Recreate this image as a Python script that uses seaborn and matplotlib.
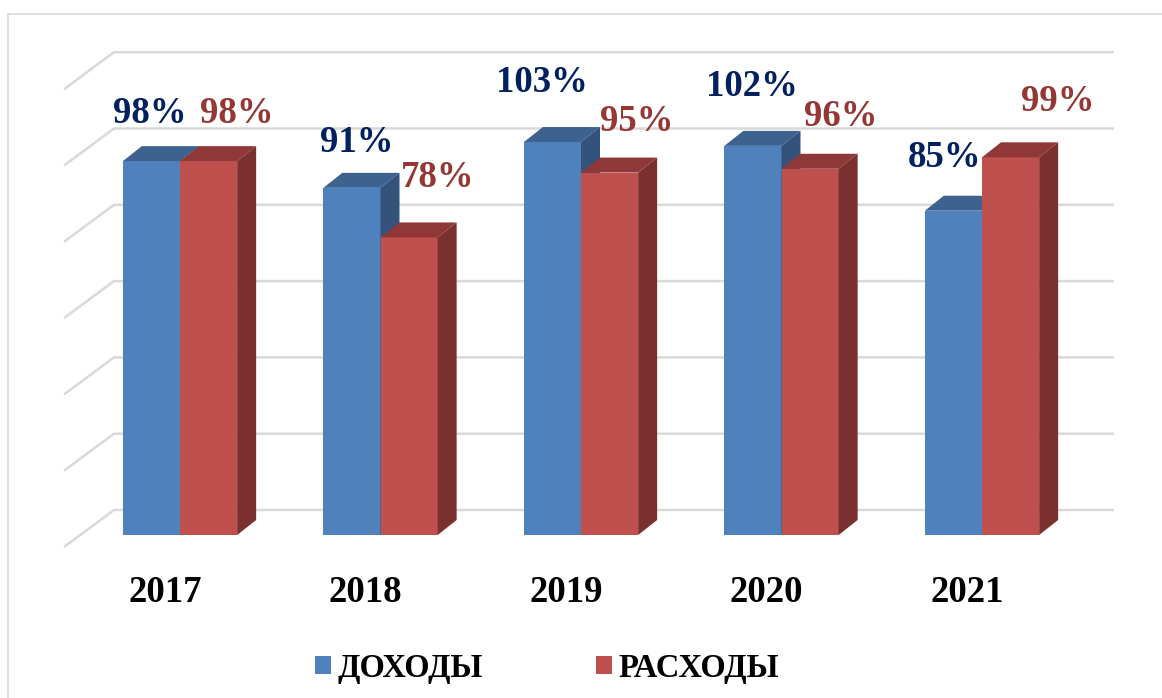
import matplotlib
matplotlib.use("Agg")
import matplotlib.pyplot as plt
import matplotlib.transforms as mtransforms
from matplotlib.patches import Polygon, Rectangle
import pandas as pd
import seaborn as sns

# ---- data ----
years = ["2017", "2018", "2019", "2020", "2021"]
series = ["ДОХОДЫ", "РАСХОДЫ"]
income = [98, 91, 103, 102, 85]
expense = [98, 78, 95, 96, 99]
grid_values = [0, 20, 40, 60, 80, 100, 120]

df = pd.DataFrame({
    "year": years * 2,
    "value": income + expense,
    "series": [series[0]] * len(years) + [series[1]] * len(years),
})

# ---- style ----
sns.set_style("white")
FONT = ["Liberation Serif", "DejaVu Serif"]
plt.rcParams["font.family"] = FONT
plt.rcParams["text.color"] = "black"

front = ["#4F81BD", "#C0504D"]
top_c = ["#3D6290", "#8F3837"]
side_c = ["#33527C", "#7A302F"]
label_c = ["#002060", "#953735"]
grid_c = "#D9D9D9"
FS = 26.5
FS_LEG = 23.5

# label nudges in pixels (dx from bar centre, dy above bar front top)
nudges = [
    [(-2, 38), (4.5, 35.5), (-10, 50), (-1, 49.5), (-9, 44)],
    [(28.5, 38), (28.5, 50), (27, 42), (30.5, 42.3), (47, 46)],
]

W, H = 1162, 698
fig = plt.figure(figsize=(W / 100, H / 100), dpi=100)
px_x = 200.5      # pixels per category
S = 3.815         # pixels per percent
x0_px = 180.0     # pixel position of first category
base_px = 535.0   # pixel row of value 0 (front plane)
xlim = (-0.6, 4.7)
ylim = (0, 130)
L = x0_px + xlim[0] * px_x
R = x0_px + xlim[1] * px_x
ax = fig.add_axes([L / W, (H - base_px) / H, (R - L) / W, (ylim[1] - ylim[0]) * S / H])

sns.barplot(data=df, x="year", y="value", hue="series", order=years, hue_order=series,
            palette=front, saturation=1, width=0.57, ax=ax, edgecolor="none", linewidth=0)
ax.set_xlim(*xlim)
ax.set_ylim(*ylim)

# depth of bars (px) -> data units
dxd = 19 / px_x
dyd = 15 / S

for k, cont in enumerate(ax.containers):
    z = 3 + 2 * k
    for rect in cont:
        rect.set_zorder(z)
        x0 = rect.get_x()
        w = rect.get_width()
        h = rect.get_height()
        ax.add_patch(Polygon([(x0, h), (x0 + w, h), (x0 + w + dxd, h + dyd), (x0 + dxd, h + dyd)],
                             closed=True, fc=top_c[k], ec="none", zorder=z))
        ax.add_patch(Polygon([(x0 + w, 0), (x0 + w, h), (x0 + w + dxd, h + dyd), (x0 + w + dxd, dyd)],
                             closed=True, fc=side_c[k], ec="none", zorder=z))

    for i, rect in enumerate(cont):
        nx, ny = nudges[k][i]
        val = rect.get_height()
        ax.annotate(f"{val:.0f}%", xy=(rect.get_x() + rect.get_width() / 2, val),
                    xytext=(nx * 0.72, ny * 0.72), textcoords="offset points",
                    ha="center", va="baseline", fontsize=FS, fontweight="bold",
                    color=label_c[k], zorder=10)

# perspective gridlines (side wall + back wall)
back_dy = 25 / S
front_dy = -12 / S
xfl = (64 - x0_px) / px_x
xbl = (114 - x0_px) / px_x
xbr = (1114 - x0_px) / px_x
for v in grid_values:
    ax.plot([xfl, xbl, xbr], [v + front_dy, v + back_dy, v + back_dy], color=grid_c,
            lw=1.8, zorder=1, clip_on=False, solid_capstyle="butt")

# category labels on the front edge of the floor
off = mtransforms.ScaledTranslation(-15 / 100, -67 / 100, fig.dpi_scale_trans)
for xt, lab in zip(ax.get_xticks(), years):
    ax.text(xt, 0, lab, transform=ax.transData + off, ha="center", va="baseline",
            fontsize=FS, fontweight="bold", color="black")

ax.set_xticks([])
ax.set_yticks([])
ax.set_xlabel("")
ax.set_ylabel("")
for s in ax.spines.values():
    s.set_visible(False)
ax.patch.set_visible(False)

sns.move_legend(ax, loc="center", bbox_to_anchor=(547 / W, 1 - 668 / H),
                bbox_transform=fig.transFigure, ncol=2, frameon=False, title=None,
                prop={"family": FONT, "weight": "bold", "size": FS_LEG},
                labelcolor="black",
                handlelength=0.5, handleheight=0.5, handletextpad=0.2,
                columnspacing=3.45, borderpad=0)

fig.add_artist(Rectangle((8 / W, -0.05), 1.2, (H - 14) / H + 0.05, transform=fig.transFigure,
                         fill=False, ec=grid_c, lw=1.2))

fig.savefig("out.png", dpi=100)
